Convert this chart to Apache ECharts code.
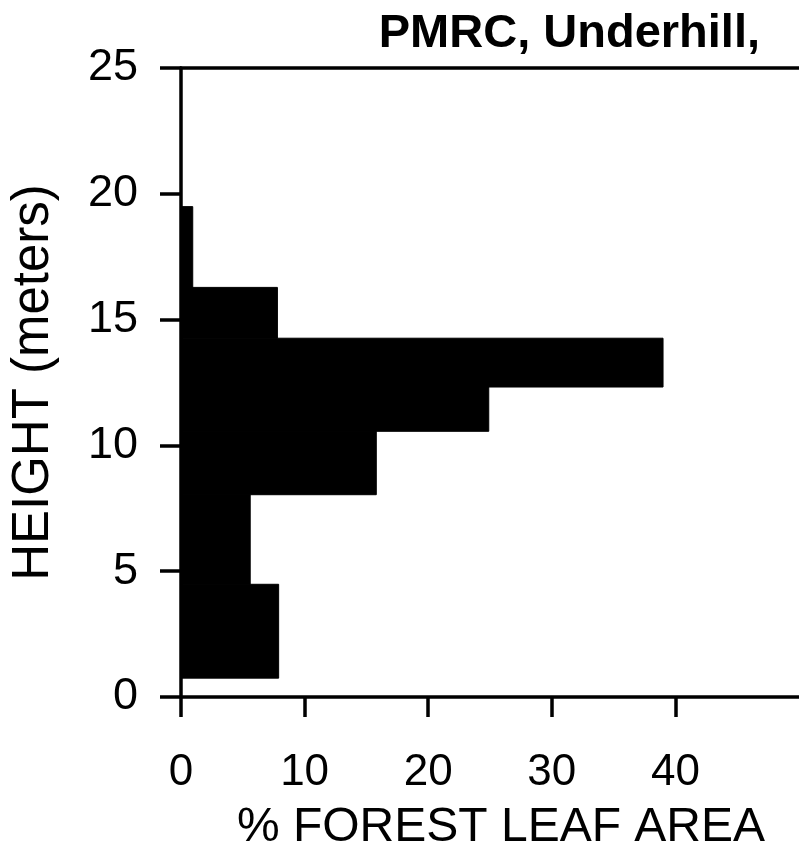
<!DOCTYPE html>
<html>
<head>
<meta charset="utf-8">
<script src="https://cdn.jsdelivr.net/npm/echarts@6/dist/echarts.min.js"></script>
<style>
  html, body { margin: 0; padding: 0; background: #fff; }
  #graph { width: 799px; height: 857px; }
</style>
</head>
<body>
<div id="graph"></div>
<script>
const chartDom = document.getElementById('graph')
const myChart = echarts.init(chartDom)

// height layers (meters), bottom and top of each bar
const heightLow = [0.75, 4.48, 8.04, 10.56, 12.32, 14.26, 16.28];
const heightHigh = [4.48, 8.04, 10.56, 12.32, 14.26, 16.28, 19.49];
// % of forest leaf area in each layer
const leafArea = [7.9, 5.6, 15.8, 24.9, 39.0, 7.8, 0.95];

const xTicks = [0, 10, 20, 30, 40];
const yTicks = [0, 5, 10, 15, 20, 25];

const font = 'Liberation Sans';

let data = [];
for (let i = 0; i < leafArea.length; i++) {
    data.push([heightLow[i], heightHigh[i], leafArea[i]]);
}

function renderBar(params, api) {
    const topLeft = api.coord([0, api.value(1)]);
    const bottomRight = api.coord([api.value(2), api.value(0)]);
    return {
        type: 'rect',
        shape: {
            x: topLeft[0],
            y: topLeft[1],
            width: bottomRight[0] - topLeft[0],
            height: bottomRight[1] - topLeft[1]
        },
        // thin stroke closes the seams between stacked layers
        style: { fill: '#000', stroke: '#000', lineWidth: 1 }
    };
}

const axisLine = { show: true, lineStyle: { color: '#000', width: 3.5 } };

const option = {
    animation: false,
    backgroundColor: '#fff',
    title: {
        text: 'PMRC, Underhill,',
        right: 34,
        top: 6,
        textStyle: { fontFamily: font, fontSize: 47, fontWeight: 'bold', color: '#000' }
    },
    grid: { left: 181, top: 68, right: 0, bottom: 158 },
    xAxis: [
        {
            type: 'value',
            min: 0,
            max: 50,
            interval: 10,
            position: 'bottom',
            axisLine: axisLine,
            axisTick: {
                show: true, inside: false, length: 20,
                customValues: xTicks,
                lineStyle: { color: '#000', width: 3.5 }
            },
            axisLabel: {
                customValues: xTicks,
                margin: 54,
                fontFamily: font, fontSize: 44, color: '#000'
            },
            splitLine: { show: false },
            name: '% FOREST LEAF AREA',
            nameLocation: 'middle',
            nameGap: 107,
            nameTextStyle: { fontFamily: font, fontSize: 48, color: '#000', padding: [0, 0, 0, 22] }
        },
        {
            type: 'value',
            min: 0,
            max: 50,
            position: 'top',
            axisLine: axisLine,
            axisTick: { show: false },
            axisLabel: { show: false },
            splitLine: { show: false }
        }
    ],
    yAxis: {
        type: 'value',
        min: 0,
        max: 25,
        interval: 5,
        axisLine: axisLine,
        axisTick: {
            show: true, inside: false, length: 21,
            customValues: yTicks,
            lineStyle: { color: '#000', width: 3.5 }
        },
        axisLabel: {
            customValues: yTicks,
            margin: 43,
            fontFamily: font, fontSize: 45, color: '#000'
        },
        splitLine: { show: false },
        name: 'HEIGHT (meters)',
        nameLocation: 'middle',
        nameGap: 122,
        nameTextStyle: { fontFamily: font, fontSize: 51, color: '#000' }
    },
    series: [
        {
            name: 'Leaf area',
            type: 'custom',
            renderItem: renderBar,
            encode: { x: 2, y: [0, 1] },
            data: data,
            z: 1
        }
    ]
};

option && myChart.setOption(option);
</script>
</body>
</html>
